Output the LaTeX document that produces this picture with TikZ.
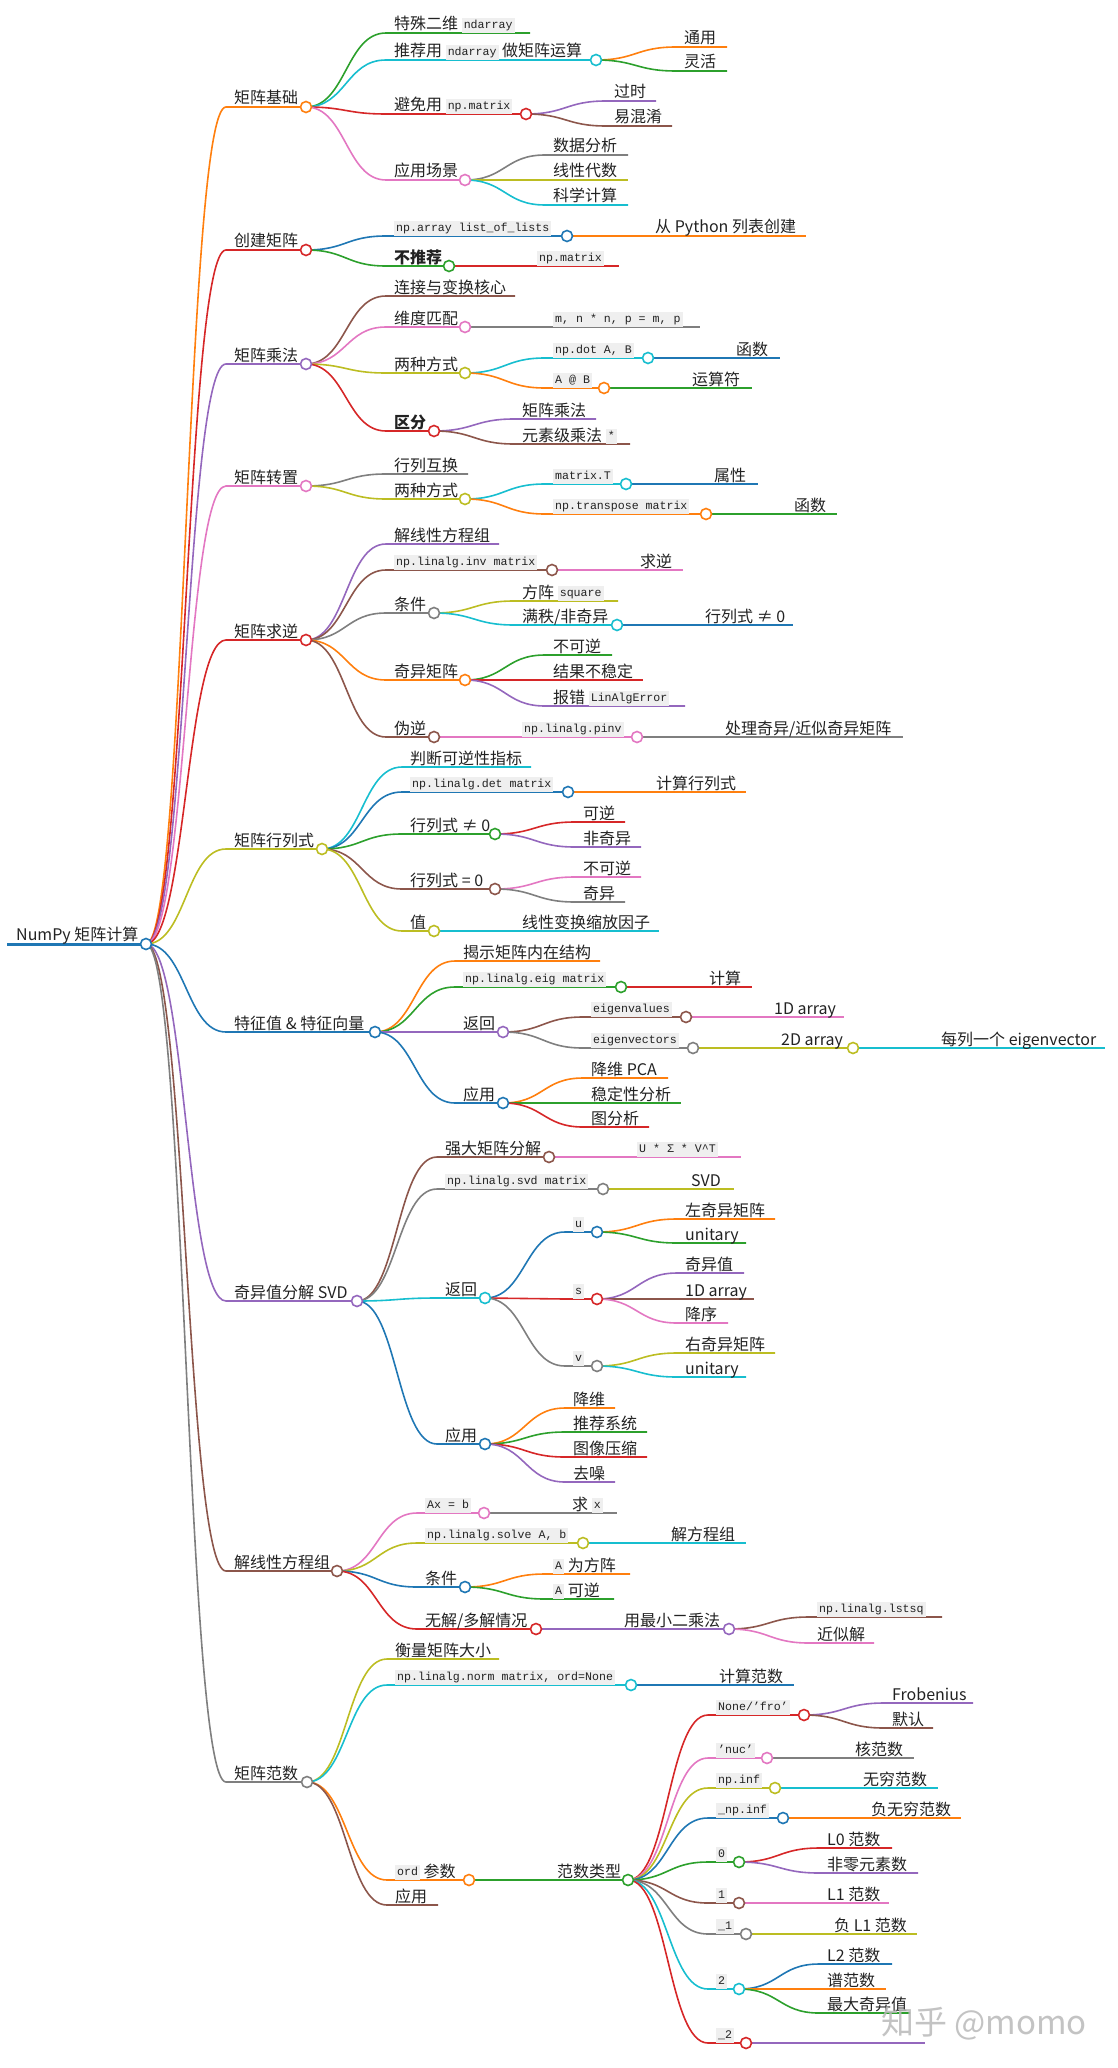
\documentclass[tikz,border=0pt]{standalone}
\usepackage{fontspec}
\setmainfont{Noto Sans CJK SC}
\setmonofont{Liberation Mono}
\usetikzlibrary{calc}
\pgfdeclarelayer{fg}
\pgfsetlayers{main,fg}
\definecolor{kBlue}{HTML}{1F77B4}
\definecolor{kOrange}{HTML}{FF7F0E}
\definecolor{kGreen}{HTML}{2CA02C}
\definecolor{kRed}{HTML}{D62728}
\definecolor{kPurple}{HTML}{9467BD}
\definecolor{kBrown}{HTML}{8C564B}
\definecolor{kPink}{HTML}{E377C2}
\definecolor{kGrey}{HTML}{7F7F7F}
\definecolor{kOlive}{HTML}{BCBD22}
\definecolor{kCyan}{HTML}{17BECF}
\definecolor{kText}{HTML}{222222}
\definecolor{codebg}{HTML}{EFEFEF}
\tikzset{
  lk/.style={line width=1.6pt},
  circ/.style={line width=1.6pt, fill=white},
  lbl/.style={anchor=base west, inner sep=0pt, text=kText, font=\fontsize{16}{18}\selectfont},
}
\newcommand{\codebox}[1]{{\setlength{\fboxsep}{2pt}\raisebox{1.5pt}{\colorbox{codebg}{\fontsize{11.6}{13}\selectfont\ttfamily\rule[-2.5pt]{0pt}{11pt}#1}}}}
\newcommand{\mmn}[6]{%
  \path let \p1=(#2) in (\x1+80pt,-#3pt) coordinate (#1s);
  \coordinate (#1) at (#4,#3);
  \draw[lk,#5] let \p1=(#2), \p2=(#1s), \p3=($(\p1)!0.5!(\p2)$) in (\p1) .. controls (\x3,\y1) and (\x3,\y2) .. (\p2) -- (#1);
  \node[lbl] (#1t) at ([shift={(8pt,3pt)}]#1s) {#6};
}
\newcommand{\mmpn}[6]{\mmn{#1}{#2}{#3}{#4}{#5}{#6}%
  \begin{pgfonlayer}{fg}\draw[#5,circ] (#1) circle[radius=5.5pt];\end{pgfonlayer}}
\begin{document}
\begin{tikzpicture}[x=1pt,y=-1pt]
\useasboundingbox (0,0) rectangle (1118,2068);
% root
\coordinate (root0) at (7,944);
\coordinate (root) at (146,944);
\draw[line width=3pt,kBlue] (root0) -- (root);
\node[lbl] (roott) at ([shift={(9pt,4pt)}]root0) {NumPy 矩阵计算};
\begin{pgfonlayer}{fg}\draw[kBlue,circ] (root) circle[radius=5.5pt];\end{pgfonlayer}
% branch 1
\mmpn{a1}{root}{107}{306}{kOrange}{矩阵基础}
\mmn{b11}{a1}{33}{530}{kGreen}{特殊二维 \codebox{ndarray}}
\mmpn{b12}{a1}{60}{596}{kCyan}{推荐用 \codebox{ndarray} 做矩阵运算}
\mmn{c121}{b12}{47}{727}{kOrange}{通用}
\mmn{c122}{b12}{71}{727}{kGreen}{灵活}
\mmpn{b13}{a1}{114}{526}{kRed}{避免用 \codebox{np.matrix}}
\mmn{c131}{b13}{101}{656}{kPurple}{过时}
\mmn{c132}{b13}{126}{672}{kBrown}{易混淆}
\mmpn{b14}{a1}{180}{465}{kPink}{应用场景}
\mmn{c141}{b14}{155}{628}{kGrey}{数据分析}
\mmn{c142}{b14}{180}{628}{kOlive}{线性代数}
\mmn{c143}{b14}{205}{628}{kCyan}{科学计算}
% branch 2
\mmpn{a2}{root}{250}{306}{kRed}{创建矩阵}
\mmpn{b21}{a2}{236}{567}{kBlue}{\codebox{np.array list\_of\_lists}}
\mmn{c211}{b21}{236}{806}{kOrange}{从 Python 列表创建}
\mmpn{b22}{a2}{266}{449}{kGreen}{\textbf{不推荐}}
\mmn{c221}{b22}{266}{619}{kRed}{\codebox{np.matrix}}
% branch 3
\mmpn{a3}{root}{364}{306}{kPurple}{矩阵乘法}
\mmn{b31}{a3}{296}{515}{kBrown}{连接与变换核心}
\mmpn{b32}{a3}{327}{465}{kPink}{维度匹配}
\mmn{c321}{b32}{327}{700}{kGrey}{\codebox{m, n * n, p = m, p}}
\mmpn{b33}{a3}{373}{465}{kOlive}{两种方式}
\mmpn{c331}{b33}{358}{648}{kCyan}{\codebox{np.dot A, B}}
\mmn{d3311}{c331}{358}{780}{kBlue}{函数}
\mmpn{c332}{b33}{388}{604}{kOrange}{\codebox{A @ B}}
\mmn{d3321}{c332}{388}{752}{kGreen}{运算符}
\mmpn{b34}{a3}{431}{434}{kRed}{\textbf{区分}}
\mmn{c341}{b34}{419}{596}{kPurple}{矩阵乘法}
\mmn{c342}{b34}{444}{630}{kBrown}{元素级乘法 \codebox{*}}
% branch 4
\mmpn{a4}{root}{486}{306}{kPink}{矩阵转置}
\mmn{b41}{a4}{474}{468}{kGrey}{行列互换}
\mmpn{b42}{a4}{499}{465}{kOlive}{两种方式}
\mmpn{c421}{b42}{484}{626}{kCyan}{\codebox{matrix.T}}
\mmn{d4211}{c421}{484}{758}{kBlue}{属性}
\mmpn{c422}{b42}{514}{706}{kOrange}{\codebox{np.transpose matrix}}
\mmn{d4221}{c422}{514}{837}{kGreen}{函数}
% branch 5
\mmpn{a5}{root}{640}{306}{kRed}{矩阵求逆}
\mmn{b51}{a5}{544}{499}{kPurple}{解线性方程组}
\mmpn{b52}{a5}{570}{552}{kBrown}{\codebox{np.linalg.inv matrix}}
\mmn{c521}{b52}{570}{683}{kPink}{求逆}
\mmpn{b53}{a5}{613}{434}{kGrey}{条件}
\mmn{c531}{b53}{601}{618}{kOlive}{方阵 \codebox{square}}
\mmpn{c532}{b53}{625}{617}{kCyan}{满秩/非奇异}
\mmn{d5321}{c532}{625}{793}{kBlue}{行列式 ≠ 0}
\mmpn{b54}{a5}{680}{465}{kOrange}{奇异矩阵}
\mmn{c541}{b54}{655}{612}{kGreen}{不可逆}
\mmn{c542}{b54}{680}{643}{kRed}{结果不稳定}
\mmn{c543}{b54}{706}{685}{kPurple}{报错 \codebox{LinAlgError}}
\mmpn{b55}{a5}{737}{434}{kBrown}{伪逆}
\mmpn{c551}{b55}{737}{637}{kPink}{\codebox{np.linalg.pinv}}
\mmn{d5511}{c551}{737}{903}{kGrey}{处理奇异/近似奇异矩阵}
% branch 6
\mmpn{a6}{root}{849}{322}{kOlive}{矩阵行列式}
\mmn{b61}{a6}{767}{531}{kCyan}{判断可逆性指标}
\mmpn{b62}{a6}{792}{568}{kBlue}{\codebox{np.linalg.det matrix}}
\mmn{c621}{b62}{792}{746}{kOrange}{计算行列式}
\mmpn{b63}{a6}{834}{495}{kGreen}{行列式 ≠ 0}
\mmn{c631}{b63}{822}{625}{kRed}{可逆}
\mmn{c632}{b63}{847}{641}{kPurple}{非奇异}
\mmpn{b64}{a6}{889}{495}{kBrown}{行列式 = 0}
\mmn{c641}{b64}{877}{641}{kPink}{不可逆}
\mmn{c642}{b64}{902}{625}{kGrey}{奇异}
\mmpn{b65}{a6}{931}{434}{kOlive}{值}
\mmn{c651}{b65}{931}{659}{kCyan}{线性变换缩放因子}
% branch 7
\mmpn{a7}{root}{1032}{375}{kBlue}{特征值 \& 特征向量}
\mmn{b71}{a7}{961}{600}{kOrange}{揭示矩阵内在结构}
\mmpn{b72}{a7}{987}{621}{kGreen}{\codebox{np.linalg.eig matrix}}
\mmn{c721}{b72}{987}{752}{kRed}{计算}
\mmpn{b73}{a7}{1032}{503}{kPurple}{返回}
\mmpn{c731}{b73}{1017}{686}{kBrown}{\codebox{eigenvalues}}
\mmn{d7311}{c731}{1017}{844}{kPink}{1D array}
\mmpn{c732}{b73}{1048}{693}{kGrey}{\codebox{eigenvectors}}
\mmpn{d7321}{c732}{1048}{853}{kOlive}{2D array}
\mmn{e73211}{d7321}{1048}{1105}{kCyan}{每列一个 eigenvector}
\mmpn{b74}{a7}{1103}{503}{kBlue}{应用}
\mmn{c741}{b74}{1078}{668}{kOrange}{降维 PCA}
\mmn{c742}{b74}{1103}{681}{kGreen}{稳定性分析}
\mmn{c743}{b74}{1127}{649}{kRed}{图分析}
% branch 8
\mmpn{a8}{root}{1301}{357}{kPurple}{奇异值分解 SVD}
\mmpn{b81}{a8}{1157}{549}{kBrown}{强大矩阵分解}
\mmn{c811}{b81}{1157}{741}{kPink}{\codebox{U * Σ * V\textasciicircum T}}
\mmpn{b82}{a8}{1189}{603}{kGrey}{\codebox{np.linalg.svd matrix}}
\mmn{c821}{b82}{1189}{734}{kOlive}{SVD}
\mmpn{b83}{a8}{1298}{485}{kCyan}{返回}
\mmpn{c831}{b83}{1232}{597}{kBlue}{\codebox{u}}
\mmn{d8311}{c831}{1219}{775}{kOrange}{左奇异矩阵}
\mmn{d8312}{c831}{1243}{746}{kGreen}{unitary}
\mmpn{c832}{b83}{1299}{597}{kRed}{\codebox{s}}
\mmn{d8321}{c832}{1273}{744}{kPurple}{奇异值}
\mmn{d8322}{c832}{1299}{754}{kBrown}{1D array}
\mmn{d8323}{c832}{1323}{728}{kPink}{降序}
\mmpn{c833}{b83}{1366}{597}{kGrey}{\codebox{v}}
\mmn{d8331}{c833}{1353}{775}{kOlive}{右奇异矩阵}
\mmn{d8332}{c833}{1377}{746}{kCyan}{unitary}
\mmpn{b84}{a8}{1444}{485}{kBlue}{应用}
\mmn{c841}{b84}{1408}{615}{kOrange}{降维}
\mmn{c842}{b84}{1432}{647}{kGreen}{推荐系统}
\mmn{c843}{b84}{1457}{647}{kRed}{图像压缩}
\mmn{c844}{b84}{1482}{615}{kPurple}{去噪}
% branch 9
\mmpn{a9}{root}{1571}{337}{kBrown}{解线性方程组}
\mmpn{b91}{a9}{1513}{484}{kPink}{\codebox{Ax = b}}
\mmn{c911}{b91}{1513}{617}{kGrey}{求 \codebox{x}}
\mmpn{b92}{a9}{1543}{583}{kOlive}{\codebox{np.linalg.solve A, b}}
\mmn{c921}{b92}{1543}{746}{kCyan}{解方程组}
\mmpn{b93}{a9}{1587}{465}{kBlue}{条件}
\mmn{c931}{b93}{1574}{630}{kOrange}{\codebox{A} 为方阵}
\mmn{c932}{b93}{1599}{614}{kGreen}{\codebox{A} 可逆}
\mmpn{b94}{a9}{1629}{536}{kRed}{无解/多解情况}
\mmpn{c941}{b94}{1629}{729}{kPurple}{用最小二乘法}
\mmn{d9411}{c941}{1617}{942}{kBrown}{\codebox{np.linalg.lstsq}}
\mmn{d9412}{c941}{1643}{874}{kPink}{近似解}
% branch 10
\mmpn{a10}{root}{1782}{307}{kGrey}{矩阵范数}
\mmn{b101}{a10}{1659}{499}{kOlive}{衡量矩阵大小}
\mmpn{b102}{a10}{1685}{631}{kCyan}{\codebox{np.linalg.norm matrix, ord=None}}
\mmn{c1021}{b102}{1685}{794}{kBlue}{计算范数}
\mmpn{b103}{a10}{1880}{469}{kOrange}{\codebox{ord} 参数}
\mmn{b104}{a10}{1905}{438}{kBrown}{应用}
\mmpn{c1031}{b103}{1880}{628}{kGreen}{范数类型}
\mmpn{d1}{c1031}{1715}{804}{kRed}{\codebox{None/’fro’}}
\mmn{e11}{d1}{1703}{973}{kPurple}{Frobenius}
\mmn{e12}{d1}{1728}{933}{kBrown}{默认}
\mmpn{d2}{c1031}{1758}{767}{kPink}{\codebox{’nuc’}}
\mmn{e21}{d2}{1758}{914}{kGrey}{核范数}
\mmpn{d3}{c1031}{1788}{775}{kOlive}{\codebox{np.inf}}
\mmn{e31}{d3}{1788}{938}{kCyan}{无穷范数}
\mmpn{d4}{c1031}{1818}{783}{kBlue}{\codebox{\_np.inf}}
\mmn{e41}{d4}{1818}{961}{kOrange}{负无穷范数}
\mmpn{d5}{c1031}{1862}{739}{kGreen}{\codebox{0}}
\mmn{e51}{d5}{1848}{892}{kRed}{L0 范数}
\mmn{e52}{d5}{1873}{918}{kPurple}{非零元素数}
\mmpn{d6}{c1031}{1903}{739}{kBrown}{\codebox{1}}
\mmn{e61}{d6}{1903}{889}{kPink}{L1 范数}
\mmpn{d7}{c1031}{1934}{746}{kGrey}{\codebox{\_1}}
\mmn{e71}{d7}{1934}{917}{kOlive}{负 L1 范数}
\mmpn{d8}{c1031}{1989}{739}{kCyan}{\codebox{2}}
\mmn{e81}{d8}{1964}{892}{kBlue}{L2 范数}
\mmn{e82}{d8}{1989}{886}{kOrange}{谱范数}
\mmn{e83}{d8}{2013}{910}{kGreen}{最大奇异值}
\mmpn{d9}{c1031}{2043}{746}{kRed}{\codebox{\_2}}
\mmn{e91}{d9}{2043}{925}{kPurple}{}
% watermark
\begin{pgfonlayer}{fg}
\node[anchor=base west, inner sep=0pt, text=gray!55, opacity=0.85, font=\fontsize{33}{36}\selectfont] (wm) at (881,2034) {知乎 @momo};
\end{pgfonlayer}
\end{tikzpicture}
\end{document}
